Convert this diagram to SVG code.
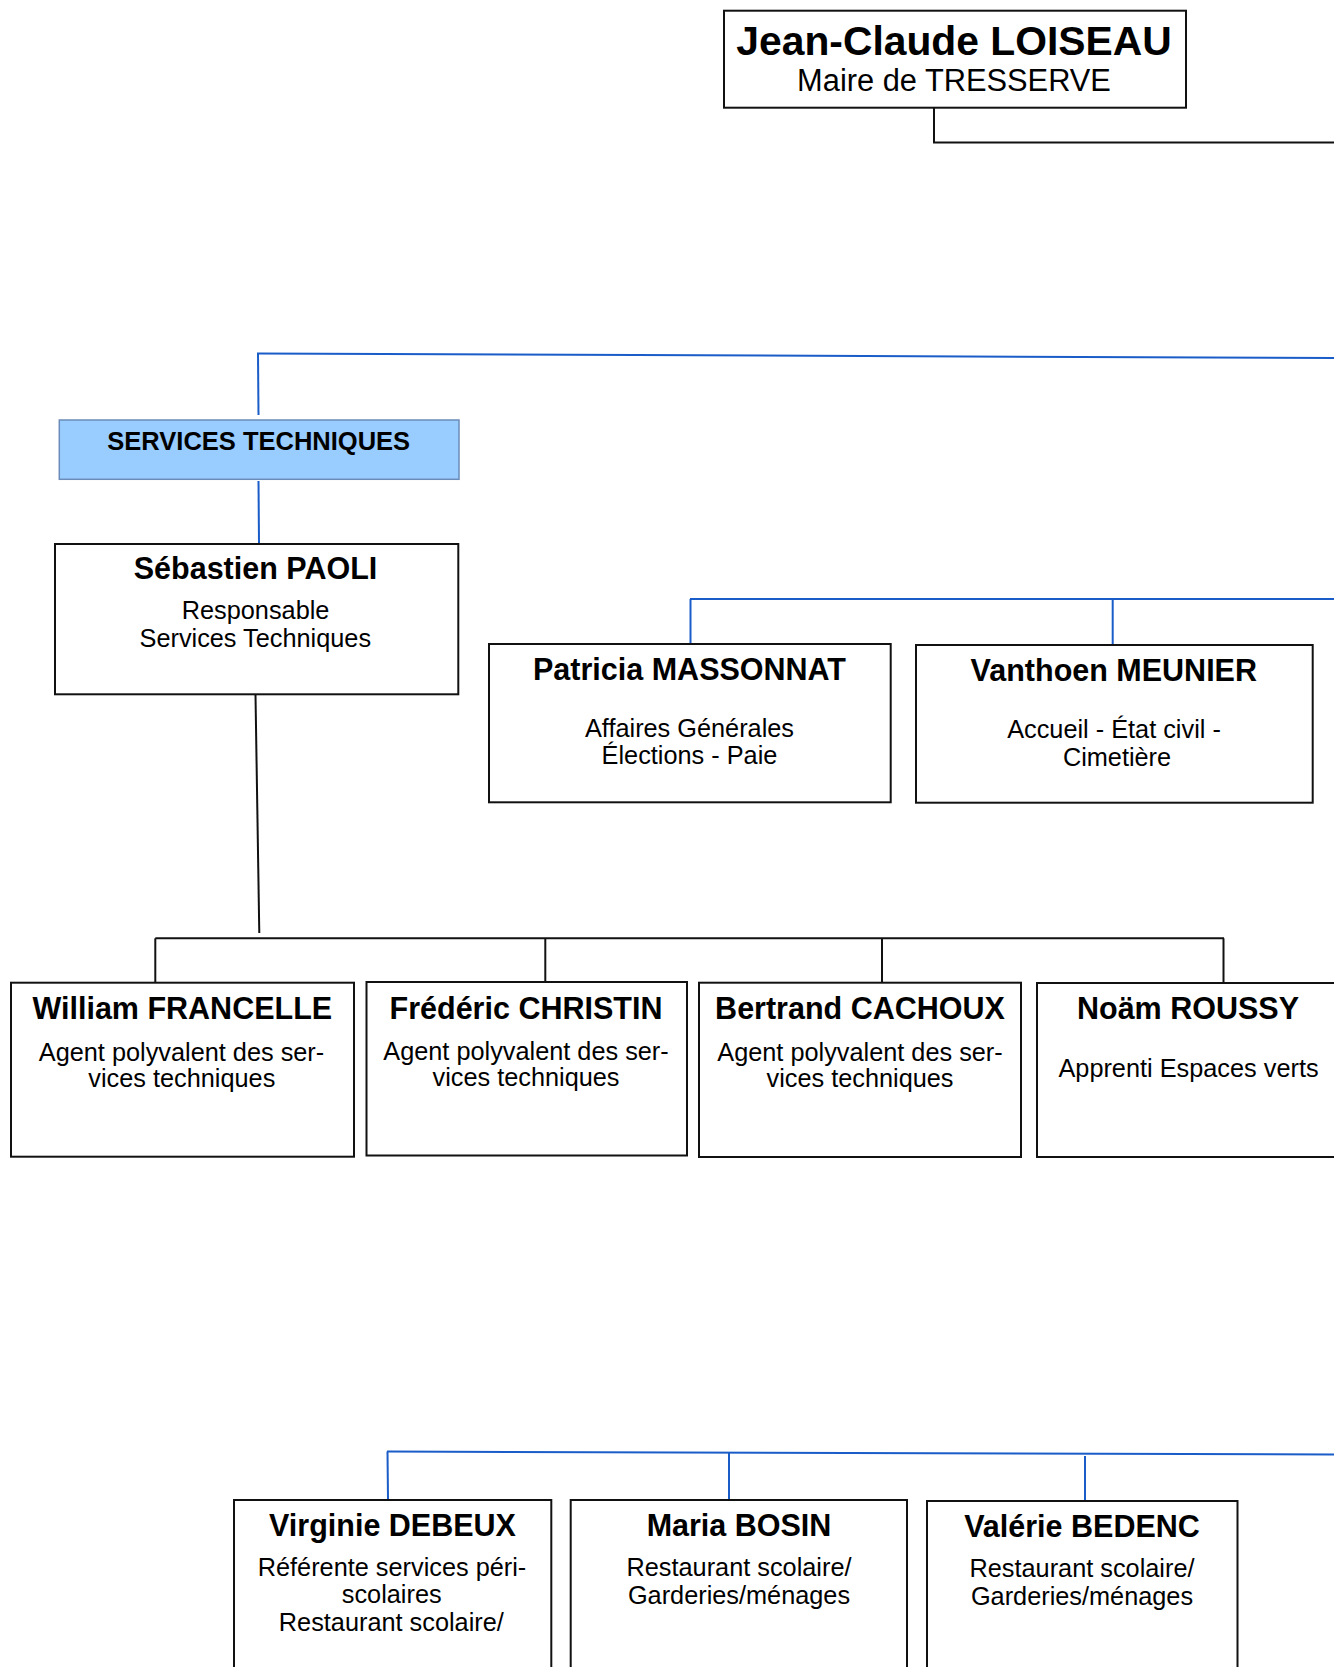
<svg xmlns="http://www.w3.org/2000/svg" width="1334" height="1667" viewBox="0 0 1334 1667">
<style>
.box{fill:#fff;stroke:#111;stroke-width:2}
.dept{fill:#99ccff;stroke:#6b8cb8;stroke-width:1.5}
.k{fill:none;stroke:#111;stroke-width:2}
.b{fill:none;stroke:#1a5cc8;stroke-width:2}
text{font-family:"Liberation Sans",Arial,sans-serif;text-anchor:middle;fill:#000}
.t{font-weight:bold;font-size:30.5px}
.s{font-size:25.3px}
</style>
<rect width="1334" height="1667" fill="#fff"/>
<g id="connectors">
<polyline class="k" points="934,108 934,142.5 1334,142.5"/>
<line class="b" x1="257" y1="353.5" x2="1334" y2="358"/>
<line class="b" x1="258" y1="354" x2="258.5" y2="415"/>
<line class="b" x1="258.5" y1="481" x2="259" y2="543"/>
<line class="b" x1="690" y1="599" x2="1334" y2="599"/>
<line class="b" x1="690.5" y1="599" x2="690.5" y2="643"/>
<line class="b" x1="1112.7" y1="599" x2="1112.7" y2="644"/>
<line class="k" x1="255.5" y1="695" x2="259.3" y2="933"/>
<line class="k" x1="155.3" y1="938.3" x2="1224" y2="938.3"/>
<line class="k" x1="155.3" y1="938.3" x2="155.3" y2="982"/>
<line class="k" x1="545.3" y1="938.3" x2="545.3" y2="982"/>
<line class="k" x1="882" y1="938.3" x2="882" y2="982"/>
<line class="k" x1="1223.5" y1="938.3" x2="1223.5" y2="982"/>
<line class="b" x1="387" y1="1451.5" x2="1334" y2="1454.5"/>
<line class="b" x1="387.5" y1="1451.5" x2="388" y2="1499"/>
<line class="b" x1="729" y1="1452.5" x2="729" y2="1499"/>
<line class="b" x1="1085" y1="1456" x2="1085" y2="1500"/>
</g>
<g id="maire">
<rect class="box" x="724" y="10.7" width="462" height="97"/>
<text x="954" y="55" font-weight="bold" font-size="40.8px">Jean-Claude LOISEAU</text>
<text x="954" y="91" font-size="30.8px">Maire de TRESSERVE</text>
</g>
<g id="services-techniques">
<rect class="dept" x="59.3" y="420" width="399.7" height="59.3"/>
<text x="258.7" y="450" font-weight="bold" font-size="25.5px">SERVICES TECHNIQUES</text>
</g>
<g id="paoli">
<rect class="box" x="55" y="544" width="403.3" height="150.3"/>
<text class="t" x="255.5" y="579.3">Sébastien PAOLI</text>
<text class="s" x="255.6" y="619.3">Responsable</text>
<text class="s" x="255.3" y="646.7">Services Techniques</text>
</g>
<g id="massonnat">
<rect class="box" x="489" y="644" width="401.7" height="158.3"/>
<text class="t" x="689.5" y="680">Patricia MASSONNAT</text>
<text class="s" x="689.5" y="736.7">Affaires Générales</text>
<text class="s" x="689.5" y="764.3">Élections - Paie</text>
</g>
<g id="meunier">
<rect class="box" x="916" y="645" width="396.7" height="157.7"/>
<text class="t" x="1113.8" y="680.7">Vanthoen MEUNIER</text>
<text class="s" x="1114" y="737.7">Accueil - État civil -</text>
<text class="s" x="1117" y="765.7">Cimetière</text>
</g>
<g id="francelle">
<rect class="box" x="11" y="982.7" width="343" height="174"/>
<text class="t" x="182.3" y="1019">William FRANCELLE</text>
<text class="s" x="181.5" y="1060.7">Agent polyvalent des ser-</text>
<text class="s" x="181.8" y="1086.5">vices techniques</text>
</g>
<g id="christin">
<rect class="box" x="366.5" y="982" width="320.5" height="173.5"/>
<text class="t" x="526" y="1019">Frédéric CHRISTIN</text>
<text class="s" x="526" y="1060">Agent polyvalent des ser-</text>
<text class="s" x="526" y="1086">vices techniques</text>
</g>
<g id="cachoux">
<rect class="box" x="699" y="982.7" width="322" height="174.3"/>
<text class="t" x="860" y="1019">Bertrand CACHOUX</text>
<text class="s" x="860" y="1060.7">Agent polyvalent des ser-</text>
<text class="s" x="860" y="1087">vices techniques</text>
</g>
<g id="roussy">
<rect class="box" x="1037" y="983" width="310" height="174"/>
<text class="t" x="1188" y="1019.3">Noäm ROUSSY</text>
<text class="s" x="1188.5" y="1077">Apprenti Espaces verts</text>
</g>
<g id="debeux">
<rect class="box" x="234" y="1500" width="317.3" height="190"/>
<text class="t" x="392.5" y="1536">Virginie DEBEUX</text>
<text class="s" x="392" y="1575.7">Référente services péri-</text>
<text class="s" x="391.7" y="1603.3">scolaires</text>
<text class="s" x="391.3" y="1631">Restaurant scolaire/</text>
</g>
<g id="bosin">
<rect class="box" x="570.7" y="1500" width="336.3" height="190"/>
<text class="t" x="739" y="1536">Maria BOSIN</text>
<text class="s" x="739" y="1576">Restaurant scolaire/</text>
<text class="s" x="739" y="1604">Garderies/ménages</text>
</g>
<g id="bedenc">
<rect class="box" x="927" y="1501" width="310.5" height="190"/>
<text class="t" x="1082" y="1537">Valérie BEDENC</text>
<text class="s" x="1082" y="1577">Restaurant scolaire/</text>
<text class="s" x="1082" y="1605">Garderies/ménages</text>
</g>
</svg>
